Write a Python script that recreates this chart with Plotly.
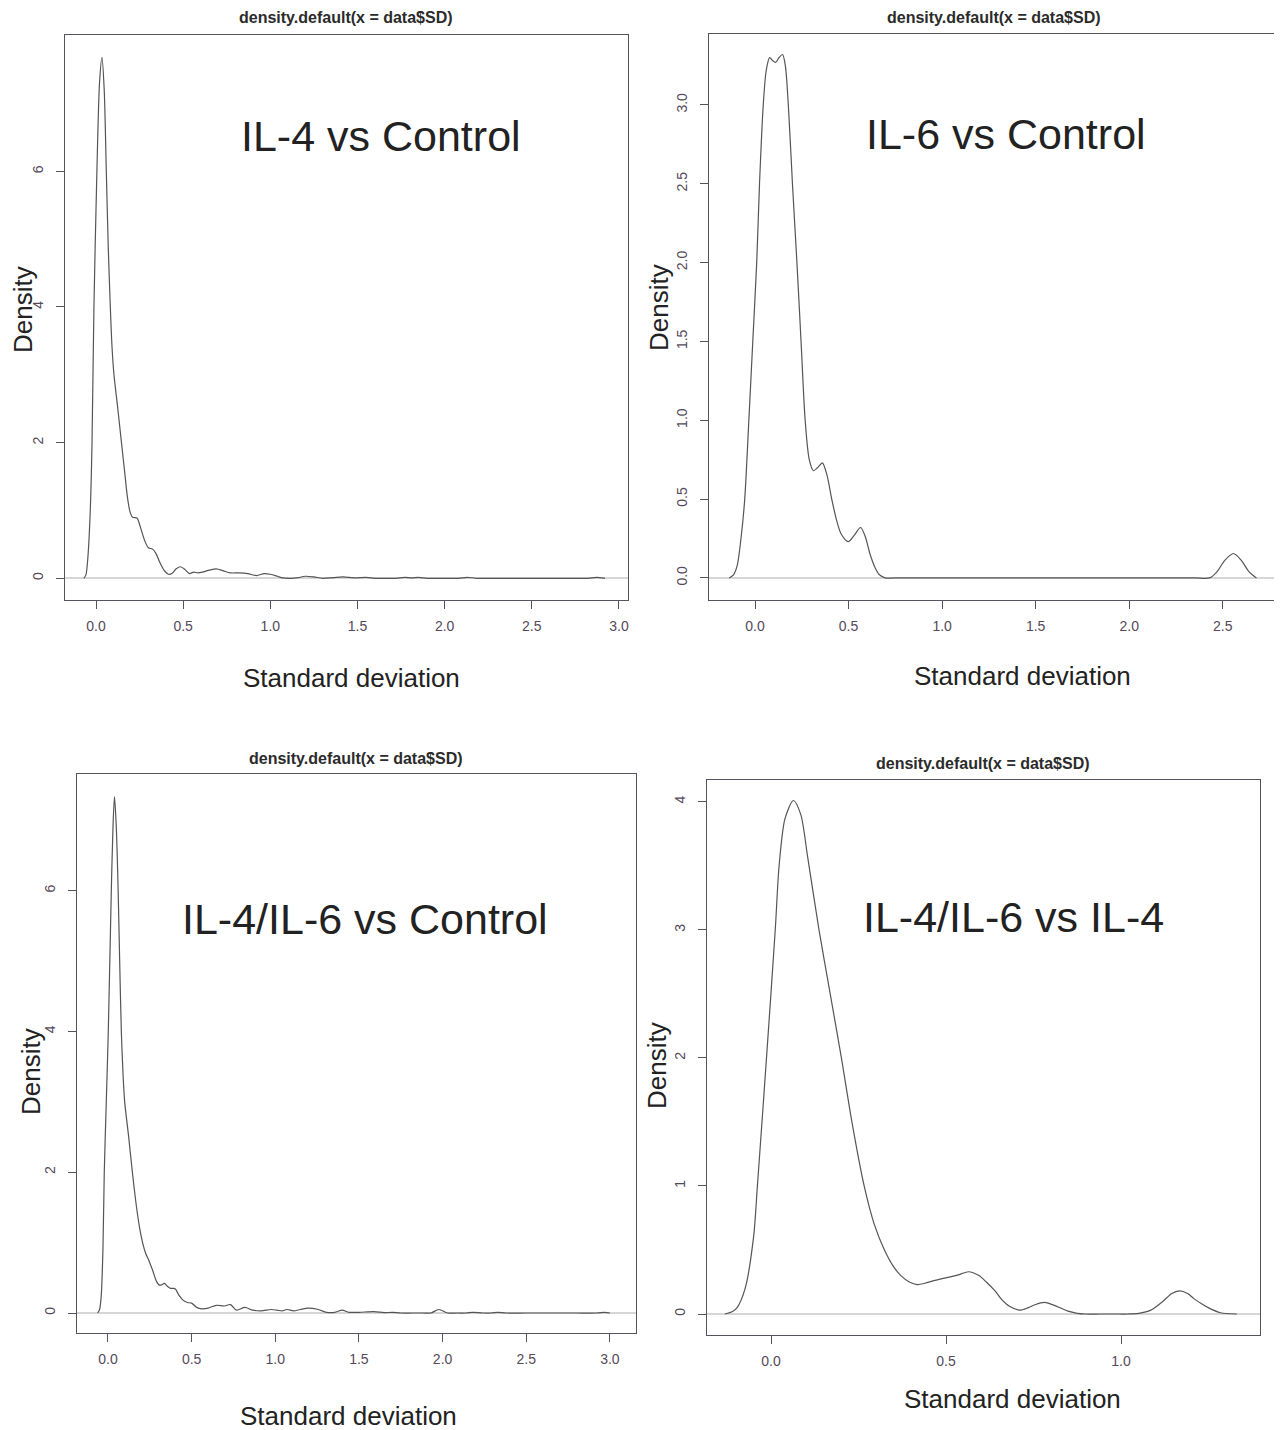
import plotly.graph_objects as go

# The page body adds an 8 px margin; the figure is sized and placed to compensate.
OFF = 8
W, H = 1282 - OFF, 1430 - OFF

# ---------------- data ----------------
panel_labels = ["IL-4 vs Control", "IL-6 vs Control", "IL-4/IL-6 vs Control", "IL-4/IL-6 vs IL-4"]
main_title = "density.default(x = data$SD)"
x_title = "Standard deviation"
y_title = "Density"

x_il4 = [-0.07, -0.058, -0.047, -0.033, -0.023, -0.012, 0.005, 0.02, 0.034, 0.047, 0.059, 0.07,
         0.082, 0.092, 0.103, 0.125, 0.146, 0.165, 0.18, 0.195, 0.21, 0.235, 0.255, 0.28, 0.3,
         0.325, 0.345, 0.365, 0.39, 0.415, 0.435, 0.46, 0.485, 0.51, 0.535, 0.56, 0.585, 0.61,
         0.65, 0.69, 0.73, 0.77, 0.82, 0.87, 0.92, 0.965, 1.0, 1.04, 1.07, 1.12, 1.16, 1.2, 1.25,
         1.3, 1.36, 1.42, 1.48, 1.55, 1.6, 1.66, 1.72, 1.77, 1.81, 1.85, 1.9, 1.97, 2.03, 2.08,
         2.13, 2.18, 2.3, 2.45, 2.6, 2.72, 2.82, 2.87, 2.92]
y_il4 = [0.0, 0.05, 0.3, 1.0, 2.0, 4.0, 6.0, 7.3, 7.68, 7.2, 6.0, 4.9,
         4.0, 3.4, 3.0, 2.5, 2.0, 1.55, 1.2, 0.98, 0.9, 0.89, 0.75, 0.55, 0.45,
         0.43, 0.36, 0.24, 0.12, 0.06, 0.07, 0.14, 0.17, 0.13, 0.07, 0.09, 0.08, 0.09,
         0.12, 0.14, 0.11, 0.08, 0.08, 0.07, 0.04, 0.07, 0.06, 0.03, 0.005, 0.0, 0.01, 0.03, 0.02,
         0.0, 0.01, 0.02, 0.005, 0.015, 0.0, 0.0, 0.0, 0.015, 0.005, 0.015, 0.0, 0.0, 0.0, 0.0,
         0.015, 0.0, 0.0, 0.0, 0.0, 0.0, 0.0, 0.015, 0.0]

x_il6 = [-0.138, -0.115, -0.095, -0.075, -0.055, -0.033, -0.012, 0.009, 0.024, 0.044, 0.06,
         0.078, 0.095, 0.11, 0.128, 0.147, 0.162, 0.178, 0.2, 0.224, 0.246, 0.268, 0.29, 0.312,
         0.335, 0.36, 0.385, 0.41, 0.435, 0.46, 0.498, 0.53, 0.564, 0.59, 0.615, 0.64, 0.665,
         0.696, 0.75, 0.85, 1.0, 1.2, 1.4, 1.6, 1.8, 2.0, 2.2, 2.35, 2.43, 2.47, 2.51, 2.557,
         2.6, 2.64, 2.68]
y_il6 = [0.0, 0.02, 0.08, 0.25, 0.5, 1.0, 1.5, 2.0, 2.5, 3.0, 3.22,
         3.30, 3.28, 3.27, 3.3, 3.32, 3.25, 3.0, 2.5, 2.0, 1.5, 1.0, 0.75, 0.68,
         0.7, 0.73, 0.65, 0.5, 0.37, 0.28, 0.23, 0.27, 0.32, 0.26, 0.15, 0.07, 0.02,
         0.0, 0.0, 0.0, 0.0, 0.0, 0.0, 0.0, 0.0, 0.0, 0.0, 0.0, 0.0, 0.04, 0.11, 0.155,
         0.11, 0.04, 0.0]

x_combo = [-0.061, -0.05, -0.04, -0.03, -0.022, -0.01, 0.002, 0.02, 0.03, 0.039, 0.05, 0.061,
           0.07, 0.08, 0.09, 0.1, 0.124, 0.146, 0.171, 0.19, 0.207, 0.225, 0.244, 0.268, 0.29,
           0.305, 0.32, 0.337, 0.355, 0.373, 0.39, 0.403, 0.425, 0.45, 0.475, 0.5, 0.53, 0.56,
           0.6, 0.647, 0.696, 0.732, 0.769, 0.818, 0.866, 0.915, 0.976, 1.01, 1.04, 1.07, 1.11,
           1.15, 1.196, 1.257, 1.306, 1.355, 1.4, 1.44, 1.5, 1.59, 1.65, 1.7, 1.75, 1.82, 1.88,
           1.93, 1.977, 2.03, 2.09, 2.14, 2.18, 2.24, 2.29, 2.33, 2.38, 2.5, 2.65, 2.8, 2.92,
           2.97, 3.0]
y_combo = [0.0, 0.05, 0.25, 0.9, 2.0, 3.0, 4.0, 6.0, 6.9, 7.34, 6.9, 6.0,
           5.0, 4.0, 3.4, 3.0, 2.5, 2.0, 1.5, 1.2, 1.0, 0.85, 0.75, 0.6, 0.45,
           0.4, 0.4, 0.42, 0.38, 0.35, 0.35, 0.34, 0.25, 0.18, 0.15, 0.14, 0.08, 0.06,
           0.07, 0.11, 0.1, 0.12, 0.04, 0.08, 0.04, 0.03, 0.05, 0.04, 0.03, 0.05, 0.03,
           0.05, 0.07, 0.05, 0.01, 0.01, 0.04, 0.01, 0.01, 0.02, 0.005, 0.01, 0.0, 0.0, 0.0,
           0.0, 0.05, 0.0, 0.0, 0.0, 0.01, 0.0, 0.0, 0.01, 0.0, 0.0, 0.0, 0.0, 0.0,
           0.01, 0.0]

x_combo_il4 = [-0.132, -0.11, -0.097, -0.074, -0.05, -0.039, -0.013, 0.012, 0.023, 0.04, 0.064,
               0.085, 0.104, 0.137, 0.169, 0.201, 0.231, 0.266, 0.295, 0.324, 0.35, 0.371, 0.395,
               0.418, 0.44, 0.465, 0.512, 0.54, 0.564, 0.594, 0.615, 0.64, 0.66, 0.681, 0.711,
               0.735, 0.752, 0.781, 0.816, 0.851, 0.875, 0.898, 0.94, 0.98, 1.02, 1.05, 1.085,
               1.12, 1.145, 1.167, 1.19, 1.208, 1.23, 1.249, 1.284, 1.331]
y_combo_il4 = [0.0, 0.02, 0.05, 0.2, 0.6, 1.0, 2.0, 3.0, 3.5, 3.87, 4.01,
               3.9, 3.58, 3.0, 2.5, 2.0, 1.5, 1.0, 0.7, 0.5, 0.37, 0.3, 0.25,
               0.23, 0.24, 0.26, 0.29, 0.31, 0.33, 0.3, 0.25, 0.18, 0.11, 0.06, 0.03,
               0.05, 0.07, 0.09, 0.06, 0.02, 0.005, 0.0, 0.0, 0.0, 0.0, 0.005, 0.03,
               0.1, 0.16, 0.18, 0.16, 0.12, 0.08, 0.05, 0.01, 0.0]

xs = [x_il4, x_il6, x_combo, x_combo_il4]
ys = [y_il4, y_il6, y_combo, y_combo_il4]

x_ticks = [[0, 0.5, 1, 1.5, 2, 2.5, 3], [0, 0.5, 1, 1.5, 2, 2.5],
           [0, 0.5, 1, 1.5, 2, 2.5, 3], [0, 0.5, 1]]
x_tick_text = [["0.0", "0.5", "1.0", "1.5", "2.0", "2.5", "3.0"],
               ["0.0", "0.5", "1.0", "1.5", "2.0", "2.5"],
               ["0.0", "0.5", "1.0", "1.5", "2.0", "2.5", "3.0"],
               ["0.0", "0.5", "1.0"]]
y_ticks = [[0, 2, 4, 6], [0, 0.5, 1, 1.5, 2, 2.5, 3], [0, 2, 4, 6], [0, 1, 2, 3, 4]]
y_tick_text = [["0", "2", "4", "6"], ["0.0", "0.5", "1.0", "1.5", "2.0", "2.5", "3.0"],
               ["0", "2", "4", "6"], ["0", "1", "2", "3", "4"]]

x_ranges = [[-0.178, 3.052], [-0.246, 2.79], [-0.185, 3.156], [-0.183, 1.397]]
y_ranges = [[-0.32, 8.01], [-0.14, 3.45], [-0.284, 7.66], [-0.164, 4.17]]

# ---------------- layout (pixel boxes in the page) ----------------
boxes = [(65, 628, 35, 600), (709, 1277, 34, 600), (77, 636, 774, 1333), (707, 1260, 780, 1335)]
title_pos = [(346, 18), (994, 17), (356, 758), (983, 763)]
label_pos = [(381, 136), (1006, 134), (365, 919), (1013, 917)]
xlab_pos = [(351, 678), (1022, 676), (349, 1416), (1012, 1399)]
ylab_pos = [(23, 310), (659, 308), (31, 1072), (657, 1065)]


def px(x):
    return (x - OFF) / W


def py(y):
    return 1 - (y - OFF) / H


FONT = "Liberation Sans, Arial, sans-serif"
AXIS_COL = "#57525f"
TICK_COL = "#55495a"
CURVE_COL = "#555555"

fig = go.Figure()
layout = dict(width=W, height=H, margin=dict(l=0, r=0, t=0, b=0),
              paper_bgcolor="white", plot_bgcolor="white", showlegend=False,
              font=dict(family=FONT))
annotations = []

for i in range(4):
    k = "" if i == 0 else str(i + 1)
    fig.add_trace(go.Scatter(x=xs[i], y=ys[i], mode="lines", xaxis="x" + k, yaxis="y" + k,
                             line=dict(color=CURVE_COL, width=1.2, shape="spline", smoothing=0.8),
                             hoverinfo="x+y"))
    l, r, t, b = boxes[i]
    layout["xaxis" + k] = dict(domain=[px(l), px(r)], range=x_ranges[i], anchor="y" + k,
                               showgrid=False, zeroline=False, showline=True,
                               mirror=True, linecolor=AXIS_COL, linewidth=1.3,
                               ticks="outside", ticklen=8, tickwidth=1.3, tickcolor=AXIS_COL,
                               tickvals=x_ticks[i], ticktext=x_tick_text[i],
                               tickfont=dict(size=14, color=TICK_COL, family=FONT),
                               ticklabelstandoff=5)
    layout["yaxis" + k] = dict(domain=[py(b), py(t)], range=y_ranges[i], anchor="x" + k,
                               showgrid=False, zeroline=True, zerolinecolor="#d6d6d6",
                               zerolinewidth=1.5, showline=True, mirror=(i != 1),
                               linecolor=AXIS_COL, linewidth=1.3,
                               ticks="outside", ticklen=8, tickwidth=1.3, tickcolor=AXIS_COL,
                               tickvals=y_ticks[i], ticktext=y_tick_text[i], tickangle=-90,
                               tickfont=dict(size=14, color=TICK_COL, family=FONT),
                               ticklabelstandoff=7)
    annotations.append(dict(x=px(title_pos[i][0]), y=py(title_pos[i][1]), xref="paper", yref="paper",
                            text="<b>" + main_title + "</b>", showarrow=False,
                            xanchor="center", yanchor="middle",
                            font=dict(size=16, color="#2b2b2b", family=FONT)))
    annotations.append(dict(x=px(label_pos[i][0]), y=py(label_pos[i][1]), xref="paper", yref="paper",
                            text=panel_labels[i], showarrow=False,
                            xanchor="center", yanchor="middle",
                            font=dict(size=43, color="#222222", family=FONT)))
    annotations.append(dict(x=px(xlab_pos[i][0]), y=py(xlab_pos[i][1]), xref="paper", yref="paper",
                            text=x_title, showarrow=False,
                            xanchor="center", yanchor="middle",
                            font=dict(size=26, color="#222222", family=FONT)))
    annotations.append(dict(x=px(ylab_pos[i][0]), y=py(ylab_pos[i][1]), xref="paper", yref="paper",
                            text=y_title, showarrow=False, textangle=-90,
                            xanchor="center", yanchor="middle", borderpad=0,
                            font=dict(size=26, color="#222222", family=FONT)))

layout["annotations"] = annotations
fig.update_layout(**layout)
fig.write_html("out.html")
